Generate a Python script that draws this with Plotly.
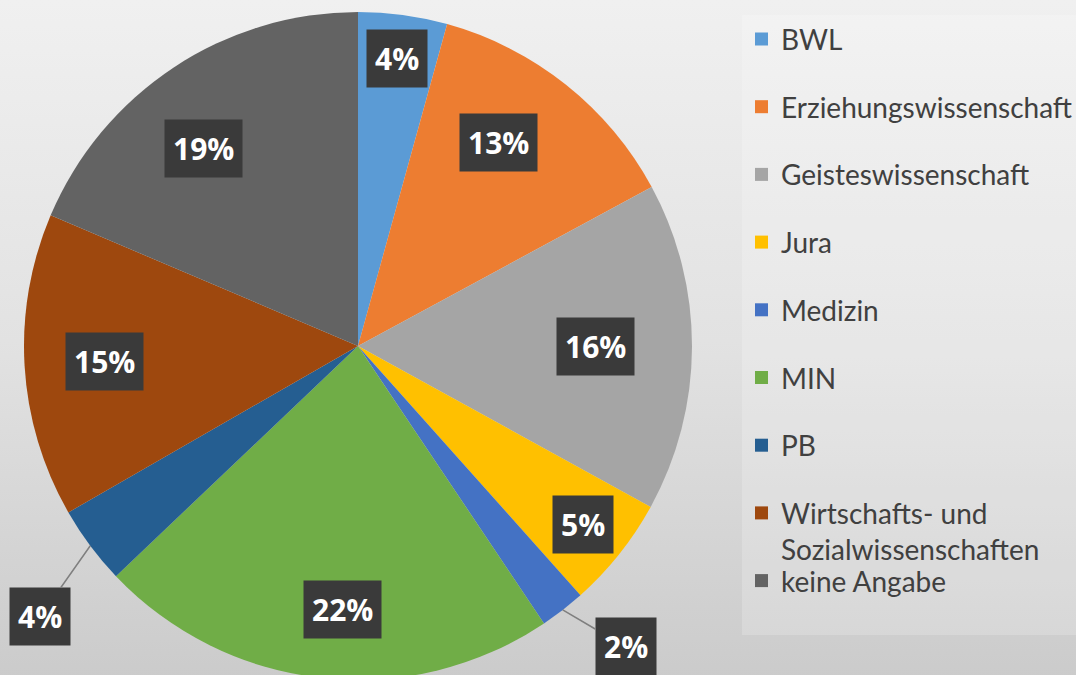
import math
import textwrap
import plotly.graph_objects as go

# ---------------- data ----------------
categories = ["BWL", "Erziehungswissenschaft", "Geisteswissenschaft", "Jura", "Medizin",
              "MIN", "PB", "Wirtschafts- und Sozialwissenschaften", "keine Angabe"]
shares = [4.3, 12.8, 15.9, 5.4, 2.2, 22.3, 3.8, 14.7, 18.6]
colors = ["#5B9BD5", "#ED7D31", "#A5A5A5", "#FFC000", "#4472C4",
          "#70AD47", "#255E91", "#9E480E", "#636363"]

# ---------------- style / layout ----------------
# radial position (fraction of radius) for inside labels, None -> callout label
label_radius = [0.87, 0.74, 0.71, 0.86, None, 0.79, None, 0.76, 0.75]
label_angle_shift = [0, -4, 0, 0, 0, -3, 0, 0, -4.5]   # degrees
callout_offset = {4: (63, 37), 6: (-50, 71)}   # pixel offsets of callout boxes

W, H = 1076, 682
CX, CY, R = 358, 346, 334

total = sum(shares)

fig = go.Figure()

# background gradient (hidden pixel axes)
fig.add_trace(go.Scatter(
    x=[0, W, W, 0, 0], y=[0, 0, H, H, 0], mode="lines", fill="toself",
    line=dict(width=0),
    fillgradient=dict(type="vertical", start=H, stop=0,
                      colorscale=[[0, "#cbcbcb"], [0.5, "#e2e2e2"], [1, "#f0f0f0"]]),
    hoverinfo="skip", showlegend=False))

fig.add_trace(go.Pie(
    labels=categories, values=shares, sort=False, direction="clockwise", rotation=0,
    marker=dict(colors=colors, line=dict(width=0)),
    textinfo="none", showlegend=False,
    domain=dict(x=[(CX - R) / W, (CX + R) / W], y=[(H - (CY + R)) / H, (H - (CY - R)) / H]),
))

annotations = []
shapes = []

# percentage labels
cum = 0.0
for i, v in enumerate(shares):
    mid = (cum + v / 2) / total * 2 * math.pi
    cum += v
    txt = f"{int(100 * v / total + 0.5)}%"
    common = dict(text=txt, xref="x", yref="y", bgcolor="#3a3a3a", borderpad=8,
                  font=dict(family="Open Sans", size=30, color="white", weight="bold"))
    if label_radius[i] is not None:
        rr = label_radius[i] * R
        a = mid + math.radians(label_angle_shift[i])
        annotations.append(dict(x=CX + rr * math.sin(a), y=CY - rr * math.cos(a),
                                showarrow=False, **common))
    else:
        ex, ey = CX + R * math.sin(mid), CY - R * math.cos(mid)
        ax, ay = callout_offset[i]
        annotations.append(dict(x=ex, y=ey, ax=ax, ay=ay, showarrow=True, arrowhead=0,
                                arrowwidth=1.5, arrowcolor="#7f7f7f", standoff=0, **common))

# legend (drawn manually)
LEG_X0, LEG_Y0, LEG_Y1 = 742, 15, 635
ITEM_Y0, ITEM_STEP = 39, 67.7
FS = 28
shapes.append(dict(type="rect", xref="x", yref="y", x0=LEG_X0, x1=W + 5, y0=LEG_Y0, y1=LEG_Y1,
                   fillcolor="rgba(255,255,255,0.2)", line=dict(width=0), layer="above"))
for i, (cat, col) in enumerate(zip(categories, colors)):
    yc = ITEM_Y0 + i * ITEM_STEP
    shapes.append(dict(type="rect", xref="x", yref="y", x0=755, x1=768, y0=yc - 6.5, y1=yc + 6.5,
                       fillcolor=col, line=dict(width=0), layer="above"))
    lines = textwrap.wrap(cat, 20, break_long_words=False)
    annotations.append(dict(x=779, y=yc + (len(lines) - 1) * FS * 1.3 / 2, xref="x", yref="y",
                            text="<br>".join(lines), showarrow=False, xanchor="left",
                            yanchor="middle", align="left",
                            font=dict(family="Lato", size=FS, color="#404040")))

fig.update_layout(
    width=W, height=H, margin=dict(l=0, r=0, t=0, b=0),
    paper_bgcolor="#e2e2e2", plot_bgcolor="rgba(0,0,0,0)",
    xaxis=dict(range=[0, W], visible=False, fixedrange=True, domain=[0, 1]),
    yaxis=dict(range=[H, 0], visible=False, fixedrange=True, domain=[0, 1]),
    annotations=annotations, shapes=shapes, showlegend=False,
)

fig.write_html("out.html", config={"displayModeBar": False},
               post_script="document.body.style.margin='0';document.body.style.overflow='hidden';")
